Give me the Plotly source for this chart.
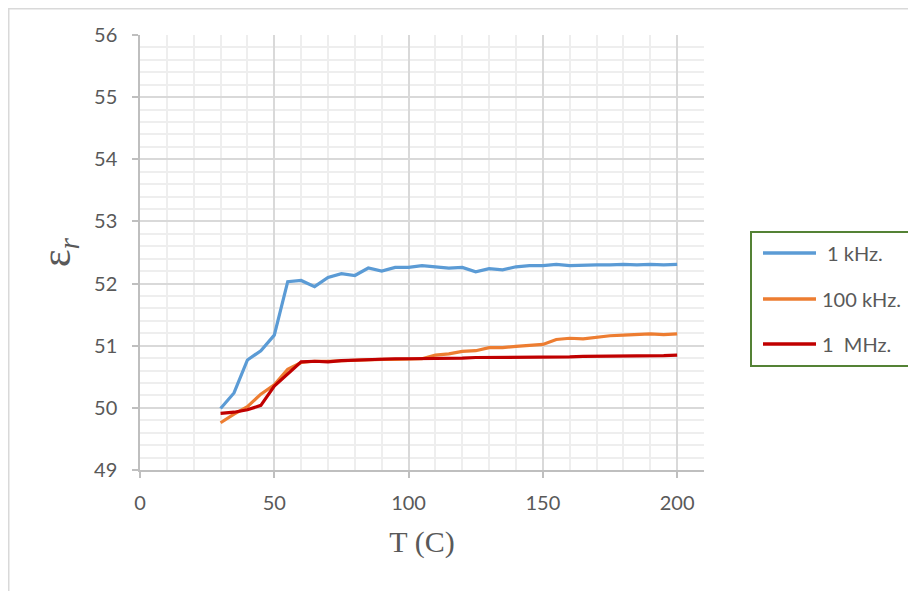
import plotly.graph_objects as go

temps = [30, 35, 40, 45, 50, 55, 60, 65, 70, 75, 80, 85, 90, 95, 100, 105, 110, 115,
         120, 125, 130, 135, 140, 145, 150, 155, 160, 165, 170, 175, 180, 185, 190, 195, 200]

eps_1khz = [49.99, 50.24, 50.77, 50.92, 51.17, 52.03, 52.05, 51.95, 52.10, 52.16, 52.13, 52.25,
            52.20, 52.26, 52.26, 52.29, 52.27, 52.25, 52.26, 52.19, 52.24, 52.22, 52.27, 52.29,
            52.29, 52.31, 52.29, 52.30, 52.30, 52.30, 52.31, 52.30, 52.31, 52.30, 52.31]

eps_100khz = [49.76, 49.90, 50.02, 50.22, 50.37, 50.62, 50.73, 50.75, 50.75, 50.76, 50.77, 50.77,
              50.78, 50.78, 50.79, 50.79, 50.85, 50.87, 50.91, 50.92, 50.97, 50.97, 50.99, 51.01,
              51.02, 51.10, 51.12, 51.11, 51.14, 51.16, 51.17, 51.18, 51.19, 51.18, 51.19]

eps_1mhz = [49.91, 49.93, 49.97, 50.04, 50.35, 50.54, 50.74, 50.75, 50.74, 50.76, 50.77, 50.78,
            50.78, 50.79, 50.79, 50.79, 50.80, 50.80, 50.80, 50.81, 50.81, 50.81, 50.81, 50.82,
            50.82, 50.82, 50.82, 50.83, 50.83, 50.83, 50.83, 50.84, 50.83, 50.84, 50.85]

series_names = ["\u00a01 kHz.", "100 kHz.", "1\u00a0\u00a0MHz."]
series_colors = ["#5B9BD5", "#ED7D31", "#C00000"]
series_values = [eps_1khz, eps_100khz, eps_1mhz]

x_ticks = [0, 50, 100, 150, 200]
y_ticks = [49, 50, 51, 52, 53, 54, 55, 56]

# page body has an 8px margin; figure is offset by it
OFF = 8
W, H = 908, 583
PL, PR, PT, PB = 140, 704, 35, 470          # plot area in page pixels
ML, MT = PL - OFF, PT - OFF
MR, MB = W - (PR - OFF), H - (PB - OFF)
PW = PR - PL
PH = PB - PT


def px(x):
    return (x - PL) / PW


def py(y):
    return (PB - y) / PH


fig = go.Figure()
for name, color, vals in zip(series_names, series_colors, series_values):
    fig.add_trace(go.Scatter(x=temps, y=vals, mode="lines", name=name,
                             line=dict(color=color, width=3.2), showlegend=False))

tick_font = dict(family="Lato, Open Sans, sans-serif", size=20, color="#595959")

fig.update_layout(
    width=W, height=H,
    margin=dict(l=ML, r=MR, t=MT, b=MB, autoexpand=False),
    paper_bgcolor="white", plot_bgcolor="white",
    xaxis=dict(
        range=[0, 210], tickvals=x_ticks, ticks="outside", ticklen=6, tickwidth=1.5,
        tickcolor="#bfbfbf", showline=True, linecolor="#bfbfbf", linewidth=1.5,
        showgrid=True, gridcolor="#d9d9d9", gridwidth=1.5, zeroline=False,
        minor=dict(dtick=10, tick0=0, showgrid=True, gridcolor="#eeeeee", gridwidth=1.5),
        tickfont=tick_font, ticklabelstandoff=8,
        title=dict(text="T (C)", font=dict(family="Liberation Serif, Times New Roman, serif",
                                            size=30, color="#595959"), standoff=18),
    ),
    yaxis=dict(
        range=[49, 56], tickvals=y_ticks, ticks="outside", ticklen=6, tickwidth=1.5,
        tickcolor="#bfbfbf", showline=True, linecolor="#bfbfbf", linewidth=1.5,
        showgrid=True, gridcolor="#d9d9d9", gridwidth=1.5, zeroline=False,
        minor=dict(dtick=0.2, tick0=49, showgrid=True, gridcolor="#eeeeee", gridwidth=1.5),
        tickfont=tick_font, ticklabelstandoff=11,
        title=dict(text="\u03b5<sub><i>r</i></sub>",
                   font=dict(family="Liberation Serif, Times New Roman, serif",
                             size=42, color="#595959"), standoff=10),
    ),
    showlegend=False,
)

# outer chart border (cropped on right/bottom)
fig.add_shape(type="rect", xref="paper", yref="paper",
              x0=px(8.75), x1=px(960), y0=py(640), y1=py(8.75),
              line=dict(color="#d9d9d9", width=1.5), fillcolor="rgba(0,0,0,0)", layer="below")

# legend box
fig.add_shape(type="rect", xref="paper", yref="paper",
              x0=px(751), x1=px(914), y0=py(366), y1=py(232),
              line=dict(color="#548235", width=2), fillcolor="white")
legend_y = [253, 299, 344]
for name, color, ly in zip(series_names, series_colors, legend_y):
    fig.add_shape(type="line", xref="paper", yref="paper",
                  x0=px(763), x1=px(816), y0=py(ly), y1=py(ly),
                  line=dict(color=color, width=3.5))
    fig.add_annotation(xref="paper", yref="paper", x=px(820), y=py(ly),
                       text=name, showarrow=False, xanchor="left", yanchor="middle",
                       font=dict(family="Lato, Open Sans, sans-serif", size=20, color="#595959"))

fig.write_html("out.html")
